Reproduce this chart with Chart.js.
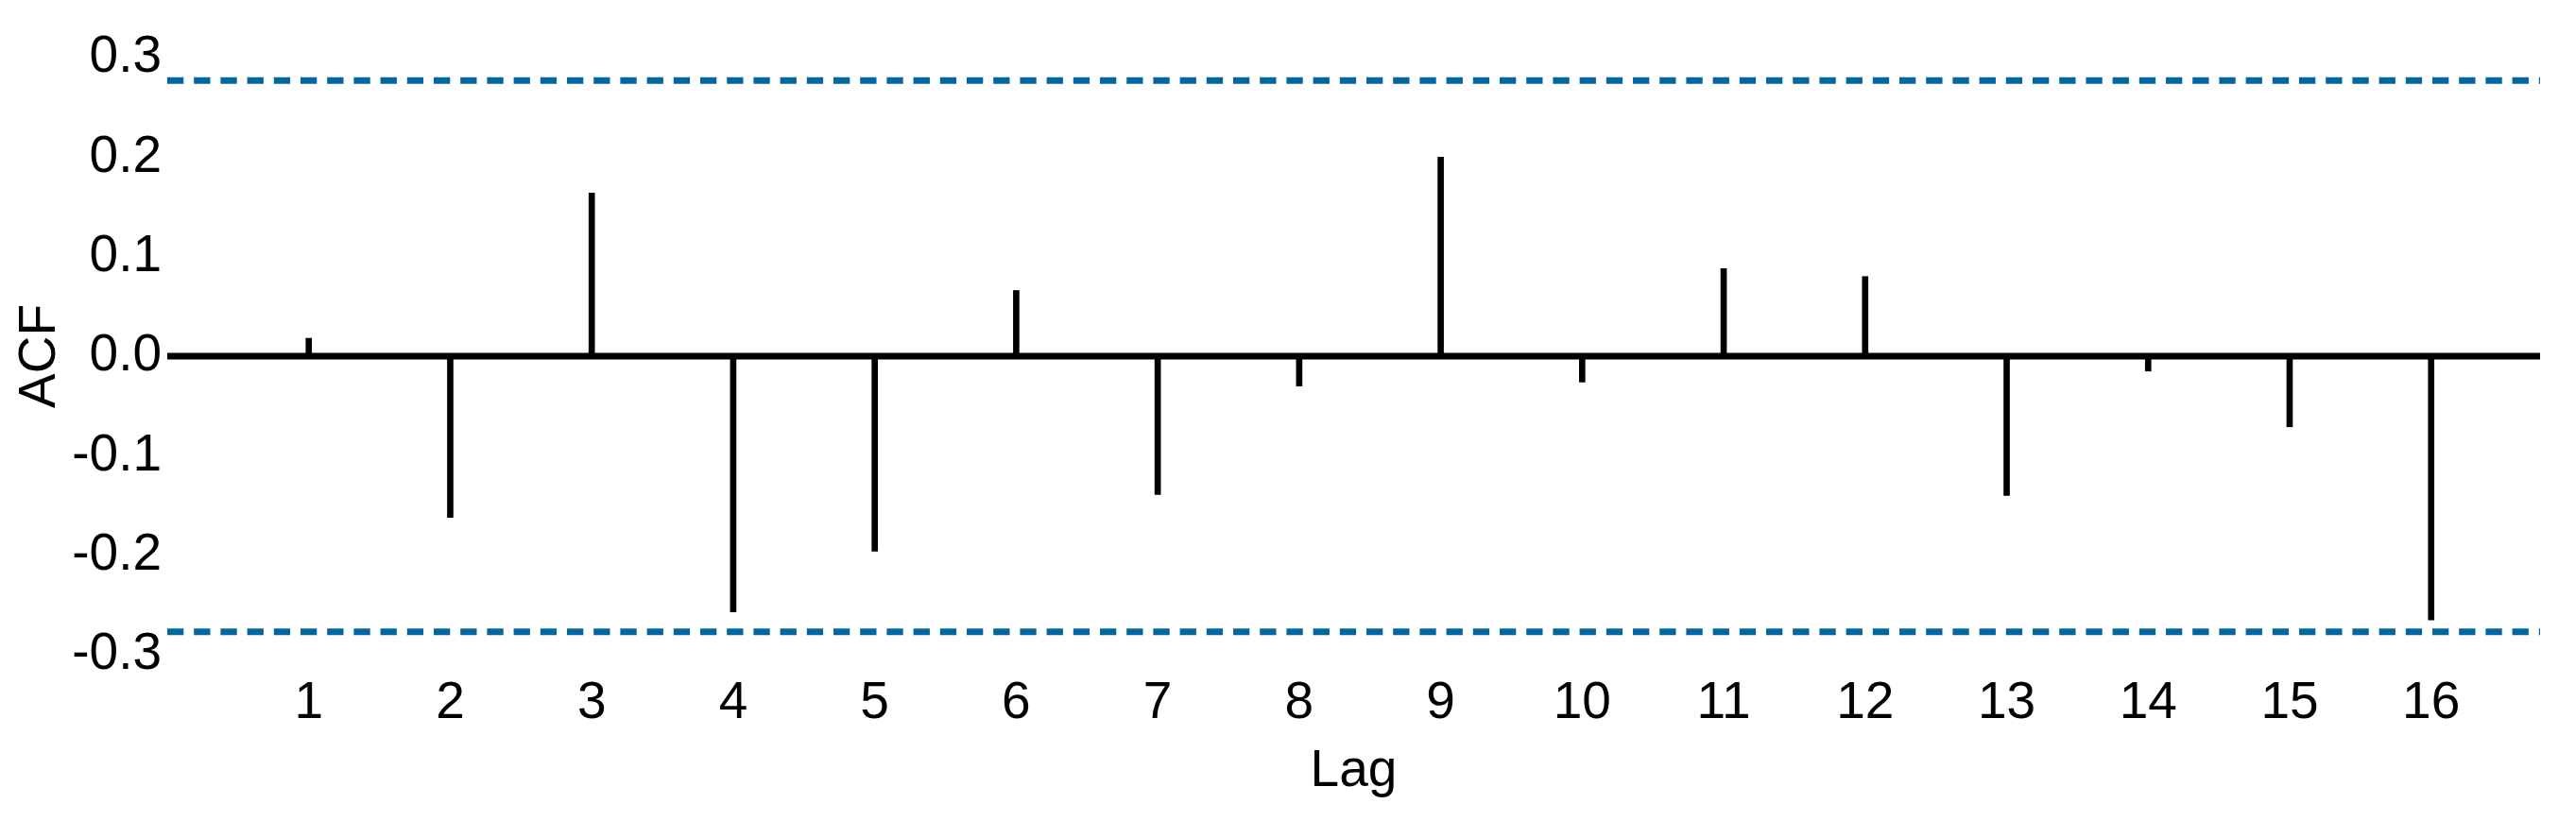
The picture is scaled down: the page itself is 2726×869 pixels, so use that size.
<!DOCTYPE html>
<html>
<head>
<meta charset="utf-8">
<script src="https://cdn.jsdelivr.net/npm/chart.js@4/dist/chart.umd.min.js"></script>
<style>
  html, body { margin: 0; padding: 0; background: #ffffff; }
  canvas { display: block; }
</style>
</head>
<body>
<canvas id="acfChart" width="2726" height="869"></canvas>
<script>
// lags and autocorrelation values
const lags = [1, 2, 3, 4, 5, 6, 7, 8, 9, 10, 11, 12, 13, 14, 15, 16]
const acf = [0.018, -0.162, 0.164, -0.257, -0.196, 0.066, -0.139, -0.030,
             0.200, -0.026, 0.088, 0.080, -0.140, -0.015, -0.071, -0.265]
const yTicks = [-0.3, -0.2, -0.1, 0.0, 0.1, 0.2, 0.3]
const xRange = [0, 16.77]
const ciBound = 0.277

const FONT = "'Liberation Sans', Arial, Helvetica, sans-serif"
const ink = '#000000'
const ciColor = '#0067a0'

const ctx = document.getElementById('acfChart')
new Chart(ctx, {
    type: 'bar',
    data: {
        datasets: [
            {
                // zero line
                type: 'line',
                data: xRange.map(x => ({ x: x, y: 0 })),
                borderColor: ink,
                borderWidth: 7,
                pointRadius: 0,
                order: 0
            },
            {
                type: 'bar',
                data: lags.map((l, i) => ({ x: l, y: acf[i] })),
                backgroundColor: ink,
                borderWidth: 0,
                barThickness: 6,
                order: 1
            },
            {
                type: 'line',
                data: xRange.map(x => ({ x: x, y: ciBound })),
                borderColor: ciColor,
                borderWidth: 7,
                borderDash: [17.3, 10.9],
                pointRadius: 0,
                order: 2
            },
            {
                type: 'line',
                data: xRange.map(x => ({ x: x, y: -ciBound })),
                borderColor: ciColor,
                borderWidth: 7,
                borderDash: [17.3, 10.9],
                pointRadius: 0,
                order: 2
            }
        ]
    },
    options: {
        responsive: false,
        devicePixelRatio: 1,
        animation: false,
        events: [],
        layout: { padding: { top: 61, right: 38, bottom: 0, left: 0 } },
        plugins: { legend: { display: false }, tooltip: { enabled: false } },
        scales: {
            x: {
                type: 'linear',
                offset: false,
                min: xRange[0],
                max: xRange[1],
                grid: { display: false, drawTicks: false },
                border: { display: false },
                afterBuildTicks: (scale) => { scale.ticks = lags.map(v => ({ value: v })) },
                afterFit: (scale) => { scale.height = 176 },
                ticks: {
                    autoSkip: false,
                    maxRotation: 0,
                    padding: 19,
                    color: ink,
                    font: { family: FONT, size: 55 },
                    callback: (v) => String(v)
                },
                title: {
                    display: true,
                    text: 'Lag',
                    color: ink,
                    font: { family: FONT, size: 55 },
                    padding: { top: 0, bottom: 19 }
                }
            },
            y: {
                type: 'linear',
                min: yTicks[0],
                max: yTicks[yTicks.length - 1],
                grid: { display: false, drawTicks: false },
                border: { display: false },
                afterBuildTicks: (scale) => { scale.ticks = yTicks.map(v => ({ value: v })) },
                afterFit: (scale) => { scale.width = 177 },
                ticks: {
                    padding: 6,
                    color: ink,
                    font: { family: FONT, size: 55 },
                    callback: (v) => Number(v).toFixed(1)
                },
                title: {
                    display: true,
                    text: 'ACF',
                    color: ink,
                    font: { family: FONT, size: 55 },
                    padding: { top: 10, bottom: 0 }
                }
            }
        }
    }
})
</script>
</body>
</html>
